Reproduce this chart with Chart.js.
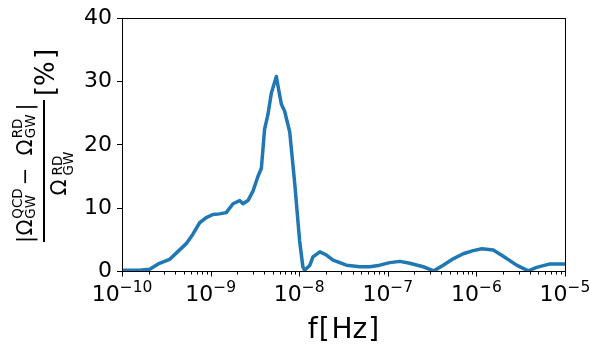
<!DOCTYPE html>
<html>
<head>
<meta charset="utf-8">
<script src="https://cdn.jsdelivr.net/npm/chart.js@4.4.0/dist/chart.umd.min.js"></script>
<style>
  html, body { margin: 0; padding: 0; background: #fff; }
</style>
</head>
<body>
<canvas id="graficoDiferenca" width="590" height="345"></canvas>
<script>
// frequencia em Hz e diferenca relativa |QCD - RD| / RD em %
const frequenciaHz = [
  1e-10, 1.58e-10, 2.05e-10, 2.65e-10, 3.44e-10, 4.09e-10, 5.31e-10, 6.31e-10, 7.52e-10, 8.93e-10,
  1.06e-9, 1.26e-9, 1.50e-9, 1.79e-9, 2.13e-9, 2.32e-9, 2.64e-9, 3.01e-9, 3.42e-9, 3.74e-9,
  4.07e-9, 4.44e-9, 4.85e-9, 5.52e-9, 5.90e-9, 6.30e-9, 6.85e-9, 7.82e-9, 8.89e-9, 1.01e-8,
  1.10e-8, 1.15e-8, 1.32e-8, 1.43e-8, 1.71e-8, 2.03e-8, 2.41e-8, 3.41e-8, 4.83e-8, 6.27e-8,
  8.13e-8, 1.05e-7, 1.37e-7, 1.77e-7, 2.51e-7, 3.31e-7, 4.22e-7, 5.47e-7, 7.10e-7, 9.20e-7,
  1.15e-6, 1.55e-6, 2.01e-6, 2.84e-6, 3.85e-6, 4.79e-6, 6.78e-6, 1e-5
];
const diferencaPct = [
  0.2, 0.2, 0.35, 1.3, 1.9, 2.9, 4.4, 5.9, 7.7, 8.5,
  9.0, 9.1, 9.3, 10.7, 11.2, 10.7, 11.2, 12.7, 15.0, 16.3,
  22.5, 24.8, 28.2, 30.8, 28.5, 26.4, 25.3, 22.0, 14.0, 4.9,
  0.75, 0.2, 1.0, 2.3, 3.1, 2.6, 1.8, 1.0, 0.75, 0.75,
  1.0, 1.4, 1.6, 1.3, 0.75, 0.1, 1.0, 2.0, 2.8, 3.3,
  3.6, 3.4, 2.4, 1.0, 0.1, 0.65, 1.2, 1.2
];
const ticksY = [0, 10, 20, 30, 40];
const expoentesX = [-10, -9, -8, -7, -6, -5];
const multiplicadores = [1, 2, 3, 4, 5, 6, 7, 8, 9];

const FONTE = "'DejaVu Sans', sans-serif";
const AZUL = '#1f77b4';

function ehDecada(v) {
  const e = Math.log10(v);
  return Math.abs(e - Math.round(e)) < 1e-6;
}

// ticks 1..9 x 10^n, como no matplotlib
function ticksLog() {
  const lista = [];
  expoentesX.forEach((e, i) => {
    if (i === expoentesX.length - 1) {
      lista.push({ value: Math.pow(10, e) });
      return;
    }
    multiplicadores.forEach(m => {
      lista.push({ value: Number((m * Math.pow(10, e)).toPrecision(3)) });
    });
  });
  return lista;
}

function escreve(ctx, txt, tam, x, y) {
  ctx.font = tam + 'px ' + FONTE;
  ctx.fillText(txt, x, y);
}

// rotulo do eixo y: fracao com Omega, desenhada girada
function desenhaRotuloY(ctx, cx, cy) {
  ctx.save();
  ctx.translate(cx, cy);
  ctx.rotate(-Math.PI / 2);
  ctx.fillStyle = '#000';
  ctx.textBaseline = 'alphabetic';
  ctx.textAlign = 'left';
  // numerador
  escreve(ctx, '|', 21, -72, -12);
  escreve(ctx, 'Ω', 21, -64.6, -12);
  escreve(ctx, 'QCD', 13.5, -47.7, -22);
  escreve(ctx, 'GW', 13.5, -47.7, -9);
  escreve(ctx, '−', 21, -14.2, -12);
  escreve(ctx, 'Ω', 21, 15.4, -12);
  escreve(ctx, 'RD', 13.5, 32.7, -22);
  escreve(ctx, 'GW', 13.5, 32.7, -9);
  escreve(ctx, '|', 21, 60.5, -12);
  // barra da fracao
  ctx.fillRect(-71, -1, 142, 2);
  // denominador
  escreve(ctx, 'Ω', 21, -24.6, 22);
  escreve(ctx, 'RD', 13.5, -4.5, 17.5);
  escreve(ctx, 'GW', 13.5, -4.5, 29);
  // [%]
  escreve(ctx, '[', 26, 75, 10);
  escreve(ctx, '%', 26, 85, 10);
  escreve(ctx, ']', 26, 112, 10);
  ctx.restore();
}

const moldura = {
  id: 'moldura',
  afterDraw(chart) {
    const ctx = chart.ctx;
    const area = chart.chartArea;
    const eixoX = chart.scales.x;
    ctx.save();
    ctx.strokeStyle = '#000';
    ctx.fillStyle = '#000';
    ctx.lineWidth = 1;
    ctx.strokeRect(Math.round(area.left) + 0.5, Math.round(area.top) + 0.5,
      Math.round(area.right - area.left), Math.round(area.bottom - area.top));

    // marcas do eixo x (maiores nas decadas)
    eixoX.ticks.forEach(t => {
      const px = Math.round(eixoX.getPixelForValue(t.value)) + 0.5;
      ctx.beginPath();
      ctx.moveTo(px, area.bottom);
      ctx.lineTo(px, area.bottom + (ehDecada(t.value) ? 5 : 3));
      ctx.stroke();
    });

    // rotulos 10^n
    ctx.textBaseline = 'alphabetic';
    ctx.textAlign = 'left';
    expoentesX.forEach(n => {
      const px = eixoX.getPixelForValue(Math.pow(10, n));
      const expo = '−' + Math.abs(n);
      ctx.font = '22px ' + FONTE;
      const wBase = ctx.measureText('10').width;
      ctx.font = '15.5px ' + FONTE;
      const wExpo = ctx.measureText(expo).width;
      const ini = px - (wBase + wExpo) / 2;
      escreve(ctx, '10', 22, ini, area.bottom + 29);
      escreve(ctx, expo, 15.5, ini + wBase, area.bottom + 20);
    });

    // titulo do eixo x
    const meio = (area.left + area.right) / 2;
    const base = area.bottom + 66;
    const partes = [['f', 1], ['[', 2], ['Hz', 1], [']', 0]];
    ctx.font = '28px ' + FONTE;
    let total = 0;
    partes.forEach(p => { total += ctx.measureText(p[0]).width + p[1]; });
    let pos = meio - total / 2;
    partes.forEach(p => {
      ctx.fillText(p[0], pos, base);
      pos += ctx.measureText(p[0]).width + p[1];
    });

    desenhaRotuloY(ctx, 44, 171);
    ctx.restore();
  }
};

const graficoDiferenca = new Chart(document.getElementById('graficoDiferenca'), {
  type: 'line',
  data: {
    datasets: [{
      data: frequenciaHz.map((f, i) => ({ x: f, y: diferencaPct[i] })),
      borderColor: AZUL,
      borderWidth: 3.5,
      pointRadius: 0,
      fill: false,
      tension: 0,
      borderJoinStyle: 'round',
      borderCapStyle: 'round'
    }]
  },
  options: {
    responsive: false,
    animation: false,
    layout: { padding: { top: 13.5, right: 25, left: 0, bottom: 0 } },
    plugins: { legend: { display: false }, tooltip: { enabled: false } },
    scales: {
      x: {
        type: 'logarithmic',
        min: 1e-10,
        max: 1e-5,
        grid: { display: false },
        border: { display: false },
        ticks: { display: false },
        afterBuildTicks: s => { s.ticks = ticksLog(); },
        afterFit: s => { s.height = 73.5; }
      },
      y: {
        min: 0,
        max: 40,
        afterBuildTicks: s => { s.ticks = ticksY.map(v => ({ value: v })); },
        afterFit: s => { s.width = 122; },
        grid: { drawOnChartArea: false, drawTicks: true, tickLength: 5, color: '#000', tickColor: '#000', lineWidth: 1 },
        border: { display: false },
        ticks: { color: '#000', font: { family: FONTE, size: 22 }, padding: 5 }
      }
    }
  },
  plugins: [moldura]
});
</script>
</body>
</html>
